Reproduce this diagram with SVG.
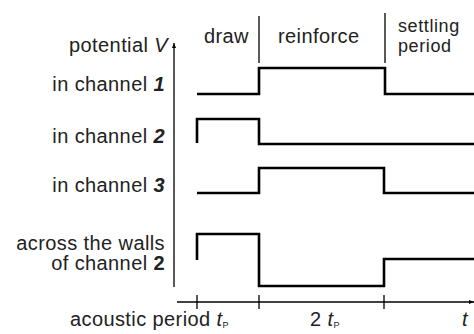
<svg xmlns="http://www.w3.org/2000/svg" width="474" height="334" viewBox="0 0 474 334">
<defs>
<marker id="ah" viewBox="0 0 10 10" refX="10" refY="5" markerWidth="5" markerHeight="5" orient="auto" markerUnits="userSpaceOnUse"><path d="M0,1 L10,5 L0,9 Z" fill="#000"/></marker>
</defs>
<style>
text{font-family:"Liberation Sans",Arial,sans-serif;font-size:20px;fill:#222;letter-spacing:0.4px}
.lab{text-anchor:end}
.sm{font-size:18px;letter-spacing:0.6px}
.sig{fill:none;stroke:#000;stroke-width:2.6;stroke-linejoin:miter}
.ax{fill:none;stroke:#000;stroke-width:1.3}
.bi{font-weight:bold;font-style:italic}
.b{font-weight:bold}
.i{font-style:italic}
.sub{font-size:9px}
</style>
<rect width="474" height="334" fill="#fff"/>
<g id="axes">
<line class="ax" x1="174" y1="287" x2="174" y2="43" marker-end="url(#ah)"/>
<line class="ax" x1="177" y1="302" x2="474" y2="302" marker-end="url(#ah)"/>
<line class="ax" x1="197" y1="295" x2="197" y2="309"/>
<line class="ax" x1="259" y1="295" x2="259" y2="309"/>
<line class="ax" x1="384" y1="295" x2="384" y2="309"/>
<line class="ax" x1="259" y1="16" x2="259" y2="63"/>
<line class="ax" x1="385" y1="13" x2="385" y2="63"/>
</g>
<g id="phases">
<text x="204" y="43">draw</text>
<text x="278" y="43">reinforce</text>
<text class="sm" x="398" y="32">settling</text>
<text class="sm" x="398" y="52">period</text>
</g>
<g id="labels">
<text class="lab" x="168" y="52">potential <tspan class="i">V</tspan></text>
<text class="lab" x="165" y="91">in channel <tspan class="bi">1</tspan></text>
<text class="lab" x="165" y="143">in channel <tspan class="bi">2</tspan></text>
<text class="lab" x="165" y="192">in channel <tspan class="bi">3</tspan></text>
<text class="lab" x="165" y="250">across the walls</text>
<text class="lab" x="165" y="270">of channel <tspan class="b">2</tspan></text>
</g>
<g id="timeaxis">
<text x="70" y="326">acoustic period <tspan class="i">t</tspan><tspan class="sub" dy="2">P</tspan></text>
<text x="310" y="326">2 <tspan class="i">t</tspan><tspan class="sub" dy="2">P</tspan></text>
<text x="462" y="326" class="i">t</text>
</g>
<g id="signals">
<path id="ch1" class="sig" d="M197,94 H259 V68 H385 V94 H474"/>
<path id="ch2" class="sig" d="M197,143 V119 H259 V144 H474"/>
<path id="ch3" class="sig" d="M197,193 H259 V168 H384 V193 H474"/>
<path id="walls" class="sig" d="M197,260 V234 H259 V286 H384 V259 H474"/>
</g>
</svg>
